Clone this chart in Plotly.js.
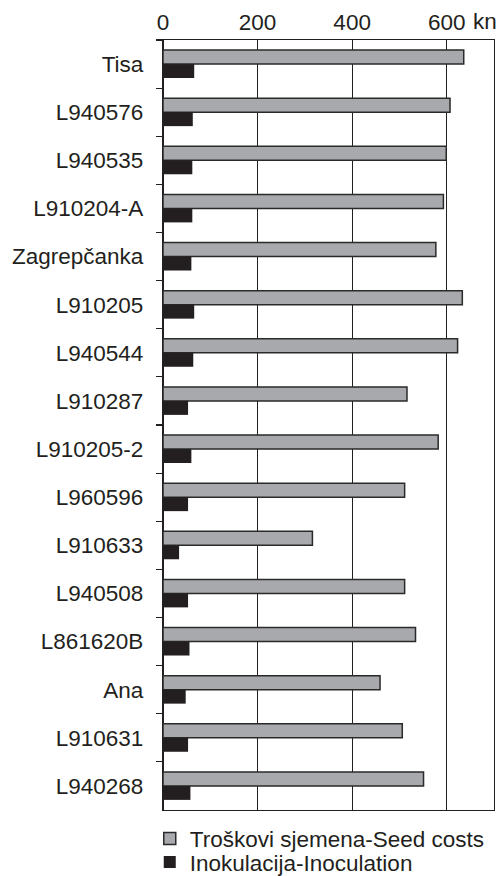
<!DOCTYPE html>
<html>
<head>
<meta charset="utf-8">
<script src="https://cdn.plot.ly/plotly-3.0.1.min.js"></script>
<style>html,body{margin:0;padding:0;background:#fff;}#chart{width:497px;height:876px;}</style>
</head>
<body>
<div id="chart"></div>
<script>
const categories = ["Tisa","L940576","L940535","L910204-A","Zagrepčanka","L910205","L940544","L910287","L910205-2","L960596","L910633","L940508","L861620B","Ana","L910631","L940268"];
const seedCosts = [636,607,599,593,577,633,623,516,582,511,316,511,534,459,506,551];
const inoculation = [66,63,62,62,60,66,64,53,60,53,34,53,56,48,53,58];
const xTickVals = [0,200,400,600];
const seriesNames = ["Troškovi sjemena-Seed costs","Inokulacija-Inoculation"];

const ink = "#231f20";
const FS = 22.5;
const traces = [
  {type:"bar", orientation:"h", name:seriesNames[0], y:categories, x:seedCosts, legend:"legend",
   marker:{color:"#a7a9ac", line:{color:"#2a2a2a", width:1.5}}},
  {type:"bar", orientation:"h", name:seriesNames[1], y:categories, x:inoculation, legend:"legend2",
   marker:{color:ink, line:{color:ink, width:0}}}
];
const legendBase = {orientation:"v", x:-0.04, xanchor:"left", yanchor:"middle", yref:"container",
                    font:{size:FS, color:ink}, tracegroupgap:0, itemclick:false, bgcolor:"rgba(0,0,0,0)"};
const layout = {
  width:497, height:876,
  margin:{l:163, r:3, t:40, b:66},
  paper_bgcolor:"#fff", plot_bgcolor:"#fff",
  font:{family:"Liberation Sans, Arial, sans-serif", size:FS, color:ink},
  barmode:"group", bargap:0.42, bargroupgap:0,
  showlegend:true,
  legend:Object.assign({}, legendBase, {y:0.0425}),
  legend2:Object.assign({}, legendBase, {y:0.0155}),
  xaxis:{side:"top", range:[0,700], tickvals:xTickVals, ticktext:xTickVals.map(String),
         showgrid:true, gridcolor:ink, gridwidth:1, zeroline:true, zerolinecolor:ink, zerolinewidth:1,
         showline:true, linecolor:ink, linewidth:1.2, mirror:true, ticks:"", ticklabelstandoff:0,
         tickfont:{size:FS, color:ink}, fixedrange:true},
  yaxis:{autorange:"reversed", type:"category", tickson:"boundaries", ticks:"outside", ticklen:6,
         tickcolor:ink, tickwidth:1.2, showline:true, linecolor:ink, linewidth:1.2, mirror:true,
         showgrid:false, ticklabelstandoff:14, tickfont:{size:FS, color:ink}, fixedrange:true},
  annotations:[{text:"kn", xref:"x", yref:"paper", x:680, y:1, yanchor:"bottom", xanchor:"center",
                yshift:4, showarrow:false, font:{size:FS, color:ink}}]
};
Plotly.newPlot("chart", traces, layout, {displayModeBar:false, staticPlot:true});
</script>
</body>
</html>
